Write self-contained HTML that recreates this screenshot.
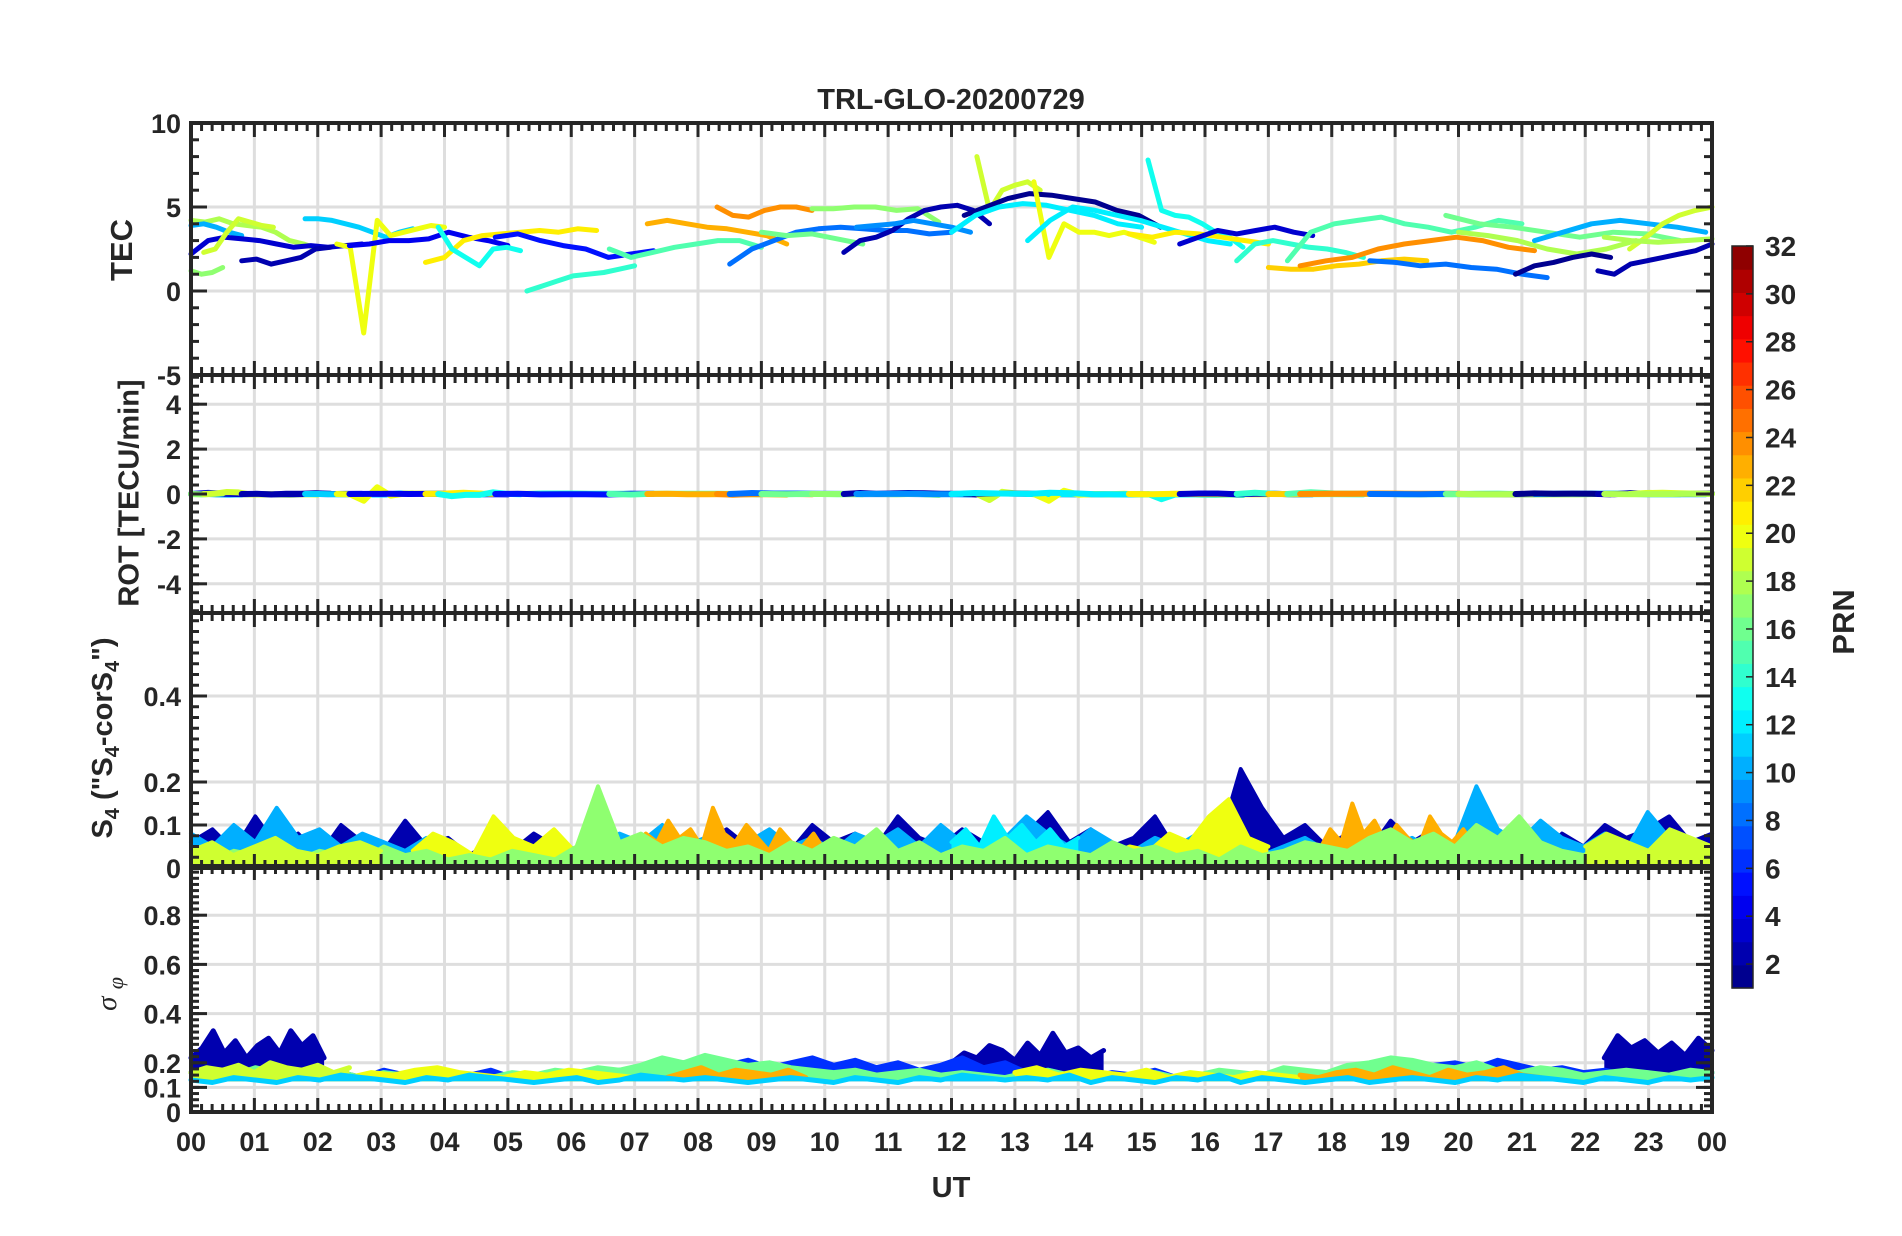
<!DOCTYPE html>
<html><head><meta charset="utf-8">
<style>
html,body{margin:0;padding:0;background:#fff;}
svg{display:block;font-family:"Liberation Sans",Arial,sans-serif;}
</style></head>
<body>
<svg id="chart" width="1902" height="1236" viewBox="0 0 1902 1236" xmlns="http://www.w3.org/2000/svg">
<rect x="0" y="0" width="1902" height="1236" fill="#fff"/>
<g id="grid"></g>
<g id="data"></g>
<g id="axes"></g>
<g id="labels"></g>
<g id="cbar"></g>
</svg>
<script>
// ---------- data ----------
const hourTicks = ["00","01","02","03","04","05","06","07","08","09","10","11","12","13","14","15","16","17","18","19","20","21","22","23","00"];
const tecTicks = [10,5,0,-5];
const rotTicks = [4,2,0,-2,-4];
const s4Ticks = [0.4,0.2,0.1,0];
const sigTicks = [0.8,0.6,0.4,0.2,0.1,0];
const cbarTicks = [2,4,6,8,10,12,14,16,18,20,22,24,26,28,30,32];

// TEC tracks: PRN, start hour, end hour, values
const tecPrn   = [18,10,3,17,19,2,11,20,4,21,13,14,5,15,23,24,8,16,17,2,9,19,1,12,20,12,13,21,3,14,22,15,24,8,16,18,10,1,2,19,18];
const tecStart = [0,0,0,0,0.2,0.8,1.8,2.3,2.5,3.7,3.9,5.3,4.8,6.6,7.2,8.3,8.5,9.0,9.8,10.3,10.5,12.4,12.2,12.0,13.3,13.2,15.1,14.8,15.6,16.5,17.0,17.3,17.5,18.6,19.8,20.0,21.2,20.9,22.2,22.7,22.3];
const tecEnd   = [2.0,0.8,2.7,0.5,1.3,2.2,3.5,4.0,5.0,6.4,5.2,7.0,7.3,9.0,9.4,9.8,12.0,10.6,11.8,12.6,12.3,13.4,15.3,15.0,15.2,16.4,16.6,17.0,17.7,18.5,19.5,21.0,21.2,21.4,23.5,22.8,23.9,22.4,24,24,24];
const tecVals = [
 [4.2,4.1,4.3,4.0,3.9,3.8,3.5,3.0,2.8,2.5],
 [3.9,4.0,3.8,3.5,3.3],
 [2.2,3.0,3.2,3.1,3.0,2.8,2.6,2.7,2.6,2.7,2.8],
 [1.2,1.0,1.1,1.4],
 [2.3,2.5,3.5,4.3,4.1,3.9,3.8],
 [1.8,1.9,1.6,1.8,2.0,2.5,2.6],
 [4.3,4.3,4.2,4.0,3.8,3.5,3.2,3.5,3.7],
 [2.8,2.6,-2.5,4.2,3.3,3.5,3.7,3.9,3.8],
 [2.7,2.8,3.0,3.0,3.1,3.5,3.2,3.0,2.7],
 [1.7,2.0,3.0,3.3,3.4,3.5,3.6,3.5,3.7,3.6],
 [3.8,2.5,2.0,1.5,2.5,2.6,2.4],
 [0.0,0.3,0.6,0.9,1.0,1.1,1.3,1.5],
 [3.2,3.4,3.0,2.7,2.5,2.0,2.2,2.4],
 [2.5,2.0,2.3,2.6,2.8,3.0,3.0,2.6],
 [4.0,4.2,4.0,3.8,3.7,3.5,3.3,2.8],
 [5.0,4.5,4.4,4.8,5.0,5.0,4.8],
 [1.6,2.5,3.0,3.5,3.7,3.8,3.7,3.6,3.6,3.4,3.5],
 [3.5,3.3,3.4,3.1,2.8],
 [4.9,4.9,5.0,5.0,4.8,4.9,4.1],
 [2.3,3.0,3.2,3.6,4.3,4.8,5.0,5.1,4.8,4.0],
 [3.8,3.9,4.0,4.2,4.0,3.8,3.5],
 [8.0,4.8,6.0,6.3,6.5,6.0],
 [4.5,5.0,5.5,5.8,5.7,5.5,5.3,4.8,4.5,3.8],
 [3.5,4.5,5.0,5.2,5.1,4.8,4.5,4.0,3.8],
 [6.5,2.0,4.0,3.5,3.5,3.3,3.5,3.2,2.9],
 [3.0,4.2,5.0,4.8,4.5,4.2,3.8,3.4,3.0,2.8],
 [7.8,4.8,4.5,4.4,4.0,3.5,3.2,2.6],
 [3.4,3.2,3.5,3.4,3.2,3.0,2.8],
 [2.8,3.2,3.6,3.4,3.6,3.8,3.5,3.3],
 [1.8,2.8,3.0,2.8,2.6,2.5,2.3,2.0],
 [1.4,1.3,1.3,1.5,1.6,1.8,1.9,1.8],
 [1.8,3.5,4.0,4.2,4.4,4.0,3.8,3.5,3.8,4.2,4.0],
 [1.5,1.8,2.0,2.5,2.8,3.0,3.2,3.0,2.6,2.4],
 [1.8,1.7,1.5,1.6,1.4,1.3,1.0,0.8],
 [4.5,4.0,3.8,3.5,3.2,3.5,3.4,3.0],
 [3.5,3.3,3.0,2.5,2.2,2.5,3.0],
 [3.0,3.5,4.0,4.2,4.0,3.8,3.5],
 [1.0,1.5,1.7,2.0,2.2,2.0],
 [1.2,1.0,1.6,1.8,2.0,2.2,2.4,2.8],
 [2.5,3.2,4.0,4.5,4.8,5.0],
 [3.2,3.0,2.9,3.0,3.1]
];

// S4 series (hundredths) - drawn in this order
const s4Prn   = [2,10,20,20,23,23,12,17,19,19];
const s4Start = [0,0,3.5,14.5,7.0,17.8,12,0,0,22];
const s4End   = [24,24,7.0,17.0,10.0,21.3,14,24,3,24];
const s4Vals = [
 [6,9,4,12,5,8,3,10,6,4,11,5,7,3,6,4,8,5,3,6,4,5,3,4,6,9,5,7,4,10,6,8,5,12,7,5,9,6,4,8,13,6,9,5,7,12,4,8,6,23,14,7,10,5,8,4,11,6,9,5,7,4,6,3,8,5,10,7,9,12,6,8],
 [8,5,10,6,14,7,9,5,8,6,4,7,5,3,4,6,5,7,4,5,8,6,10,5,7,4,6,9,5,7,4,8,6,9,5,10,6,4,7,12,8,5,9,6,4,7,5,8,4,6,3,5,7,4,6,8,5,7,4,6,19,9,6,11,7,5,8,4,13,7,6,5],
 [4,8,6,3,12,7,5,9,4,10,6,3],
 [3,5,4,8,6,12,16,7,5],
 [5,8,6,11,7,9,5,14,8,6,10,7,4,9,6,5,8,4],
 [4,9,6,15,8,11,6,10,7,5,12,8,6,9,5,7,4,8,6,5,3],
 [6,9,5,12,7,10,6,9,5,7],
 [3,2,4,3,5,2,4,3,2,5,3,4,2,3,2,4,3,2,5,19,6,8,5,7,6,4,5,3,6,4,7,5,9,4,6,3,5,4,7,3,5,4,3,6,4,5,3,4,2,5,3,4,6,5,4,7,9,6,8,5,10,7,12,6,4,3,5,4,3,6,4,3],
 [4,6,3,5,7,4,3,5,6,4],
 [5,8,6,4,9,7,5]
];

// sigma-phi series (hundredths) - drawn in this order
const sigPrn   = [2,2,2,6,16,20,20,23,23,19,11];
const sigStart = [0,12,22.3,0,0,2.5,13,7.5,17.5,0,0];
const sigEnd   = [2.1,14.4,24,24,24,7,17.5,9.7,21.3,2.5,24];
const sigVals = [
 [22,26,33,24,29,22,27,30,24,33,27,31,22],
 [20,24,22,27,25,21,28,23,32,24,26,22,25],
 [22,31,26,29,24,28,23,30,25],
 [16,15,17,14,16,15,13,16,14,17,15,14,16,15,17,14,15,16,14,15,17,16,18,20,17,19,21,18,20,22,19,21,18,20,17,19,22,18,20,16,17,15,14,16,15,17,14,15,16,14,15,17,16,15,14,16,18,17,19,20,18,21,19,17,18,16,17,15,16,14,15,16],
 [16,17,15,18,16,17,15,16,14,16,15,17,16,15,14,16,15,17,16,18,17,19,22,20,23,21,19,20,18,17,16,17,15,16,17,15,16,15,14,16,17,15,16,14,15,16,14,15,17,16,15,18,17,16,19,20,22,21,19,18,20,17,16,18,17,15,16,17,16,15,17,16],
 [14,16,15,17,18,16,15,14,16,15,17,16,15,14],
 [16,18,15,17,16,15,17,14,16,15,14,16,15,14],
 [14,16,18,15,17,16,15,17,14],
 [15,14,16,17,15,18,16,14,17,15,16,18,15,14],
 [16,18,17,19,16,20,18,17,19,16,18],
 [13,12,14,13,12,14,13,15,14,13,12,14,13,15,14,13,12,13,14,12,13,15,14,13,14,13,12,13,14,13,12,14,13,12,14,13,15,14,13,14,13,15,12,14,13,12,14,13,15,12,14,13,12,13,14,12,13,14,13,12,14,13,15,14,13,12,14,13,12,14,13,14]
];

// ---------- layout ----------
const X0 = 191, X1 = 1712;
const P = {
  tec:{top:123,bot:375,vmax:10,vmin:-5},
  rot:{top:375,bot:613,vmax:5.3,vmin:-5.3},
  s4:{top:613,bot:868,vmax:0.593,vmin:0},
  sig:{top:866,bot:1112,vmax:1.0,vmin:0}
};
const NS="http://www.w3.org/2000/svg";
const xOf = h => X0 + (X1-X0)*h/24;
const yOf = (p,v) => p.bot - (p.bot-p.top)*(v-p.vmin)/(p.vmax-p.vmin);
function jet(prn){
  const x = (prn-0.5)/32;
  const c = t => Math.round(255*Math.max(0,Math.min(1,t)));
  return `rgb(${c(1.5-Math.abs(4*x-3))},${c(1.5-Math.abs(4*x-2))},${c(1.5-Math.abs(4*x-1))})`;
}
function mk(tag, attrs, parent){
  const e = document.createElementNS(NS, tag);
  for (const k in attrs) e.setAttribute(k, attrs[k]);
  parent.appendChild(e);
  return e;
}
const gGrid = document.getElementById('grid');
const gData = document.getElementById('data');
const gAxes = document.getElementById('axes');
const gLab = document.getElementById('labels');
const gCb = document.getElementById('cbar');
const AX = "#262626";

function series(p, prn, t0, t1, vals, scale, width, name, fillBase){
  const n = vals.length;
  const xy = vals.map((v,i)=>{
    const h = n>1 ? t0 + (t1-t0)*i/(n-1) : t0;
    return [xOf(h), yOf(p, v*scale)];
  });
  const pts = xy.map(a=>a[0].toFixed(1)+","+a[1].toFixed(1)).join(" ");
  if (fillBase !== undefined){
    const yb = yOf(p, fillBase);
    const poly = pts + " " + xy[n-1][0].toFixed(1)+","+yb.toFixed(1)+" "+xy[0][0].toFixed(1)+","+yb.toFixed(1);
    const pg = mk('polygon',{points:poly,fill:jet(prn),stroke:'none'},gData);
    
    
  }
  const pl = mk('polyline',{points:pts,fill:'none',stroke:jet(prn),'stroke-width':width,'stroke-linejoin':'round','stroke-linecap':'round'},gData);
  
  
}

// grid + axes for each panel
const majorY = {tec:tecTicks, rot:rotTicks, s4:s4Ticks, sig:sigTicks};
const minorStep = {tec:1, rot:0.4, s4:0.025, sig:0.025};
for (const k in P){
  const p = P[k];
  for (let h=1; h<24; h++){
    const gl = mk('line',{x1:xOf(h),x2:xOf(h),y1:p.top,y2:p.bot,stroke:'#dedede','stroke-width':3},gGrid);
    
    
  }
  majorY[k].forEach(v=>{
    const y = yOf(p,v);
    if (y>p.top+2 && y<p.bot-2){
      const gl = mk('line',{x1:X0,x2:X1,y1:y,y2:y,stroke:'#dedede','stroke-width':3},gGrid);
      
      
    }
  });
  const box = mk('rect',{x:X0,y:p.top,width:X1-X0,height:p.bot-p.top,fill:'none',stroke:AX,'stroke-width':4},gAxes);
  
  
  for (let m=0; m<=24*6; m++){
    const h = m/6, x = xOf(h);
    const L = (m%6===0)?14:8;
    mk('line',{x1:x,x2:x,y1:p.top,y2:p.top+L,stroke:AX,'stroke-width':3},gAxes);
    mk('line',{x1:x,x2:x,y1:p.bot,y2:p.bot-L,stroke:AX,'stroke-width':3},gAxes);
  }
  const st = minorStep[k];
  for (let v=p.vmin; v<=p.vmax+1e-9; v+=st){
    const vv = Math.round(v/st)*st;
    const y = yOf(p,vv);
    mk('line',{x1:X0,x2:X0+8,y1:y,y2:y,stroke:AX,'stroke-width':3},gAxes);
    mk('line',{x1:X1,x2:X1-8,y1:y,y2:y,stroke:AX,'stroke-width':3},gAxes);
  }
  majorY[k].forEach(v=>{
    const y = yOf(p,v);
    mk('line',{x1:X0,x2:X0+16,y1:y,y2:y,stroke:AX,'stroke-width':3},gAxes);
    mk('line',{x1:X1,x2:X1-16,y1:y,y2:y,stroke:AX,'stroke-width':3},gAxes);
    const t = mk('text',{x:X0-10,y:y+10,'text-anchor':'end','font-size':27,'font-weight':'bold',fill:AX},gLab);
    t.textContent = String(v);
    
    
  });
}

// data
tecVals.forEach((vals,i)=>{
  series(P.tec, tecPrn[i], tecStart[i], tecEnd[i], vals, 1, 5, 'tec-track');
  const n = vals.length, dtMin = (tecEnd[i]-tecStart[i])*60/(n-1);
  const rot = vals.map((v,j)=> j===0 ? 0 : (v-vals[j-1])/dtMin);
  series(P.rot, tecPrn[i], tecStart[i], tecEnd[i], rot.map(r=>Math.max(-0.3,Math.min(0.3,r))), 1, 6, 'rot-track');
});
s4Vals.forEach((vals,i)=> series(P.s4, s4Prn[i], s4Start[i], s4End[i], vals, 0.01, 4, 's4-track', 0));
sigVals.forEach((vals,i)=> series(P.sig, sigPrn[i], sigStart[i], sigEnd[i], vals, 0.01, 5, 'sigma-phi-track', 0.125));

// x tick labels
hourTicks.forEach((lab,i)=>{
  const t = mk('text',{x:xOf(i),y:1151,'text-anchor':'middle','font-size':27,'font-weight':'bold',fill:AX},gLab);
  t.textContent = lab;
  
  
});

// colorbar
const CB = {x:1732,w:21,top:246,bot:988,vmin:1,vmax:32};
for (let i=0;i<32;i++){
  const h = (CB.bot-CB.top)/32;
  const r = mk('rect',{x:CB.x,y:CB.bot-(i+1)*h,width:CB.w,height:h+0.6,fill:jet(i+1)},gCb);
  
  
}
mk('rect',{x:CB.x,y:CB.top,width:CB.w,height:CB.bot-CB.top,fill:'none',stroke:AX,'stroke-width':1.5},gCb);
cbarTicks.forEach(v=>{
  const y = CB.bot - (CB.bot-CB.top)*(v-CB.vmin)/(CB.vmax-CB.vmin);
  mk('line',{x1:CB.x+CB.w-7,x2:CB.x+CB.w,y1:y,y2:y,stroke:AX,'stroke-width':1.5},gCb);
  const t = mk('text',{x:1765,y:y+10,'font-size':28,'font-weight':'bold',fill:AX},gCb);
  t.textContent = String(v);
  
  
});
</script>
<div style="position:absolute;left:0;top:0;width:1902px;height:1236px;pointer-events:none;font-family:'Liberation Sans',Arial,sans-serif;font-weight:bold;color:#262626;">
  <div style="position:absolute;left:951px;top:84px;transform:translateX(-50%);font-size:29px;white-space:nowrap;">TRL-GLO-20200729</div>
  <div style="position:absolute;left:951px;top:1172px;transform:translateX(-50%);font-size:29px;">UT</div>
  <div style="position:absolute;left:122px;top:250px;transform:translate(-50%,-50%) rotate(-90deg);font-size:31px;white-space:nowrap;">TEC</div>
  <div style="position:absolute;left:130px;top:493px;transform:translate(-50%,-50%) rotate(-90deg);font-size:29px;white-space:nowrap;">ROT [TECU/min]</div>
  <div style="position:absolute;left:106px;top:738px;transform:translate(-50%,-50%) rotate(-90deg);font-size:29px;white-space:nowrap;">S<sub style="font-size:20px">4</sub> ("S<sub style="font-size:20px">4</sub>-corS<sub style="font-size:20px">4</sub>")</div>
  <div style="position:absolute;left:110px;top:994px;transform:translate(-50%,-50%) rotate(-90deg);font-size:29px;font-weight:normal;font-style:italic;white-space:nowrap;font-family:'Liberation Serif',serif;">σ <sub style="font-size:22px">φ</sub></div>
  <div style="position:absolute;left:1844px;top:622px;transform:translate(-50%,-50%) rotate(-90deg);font-size:31px;">PRN</div>
</div>
</body></html>
